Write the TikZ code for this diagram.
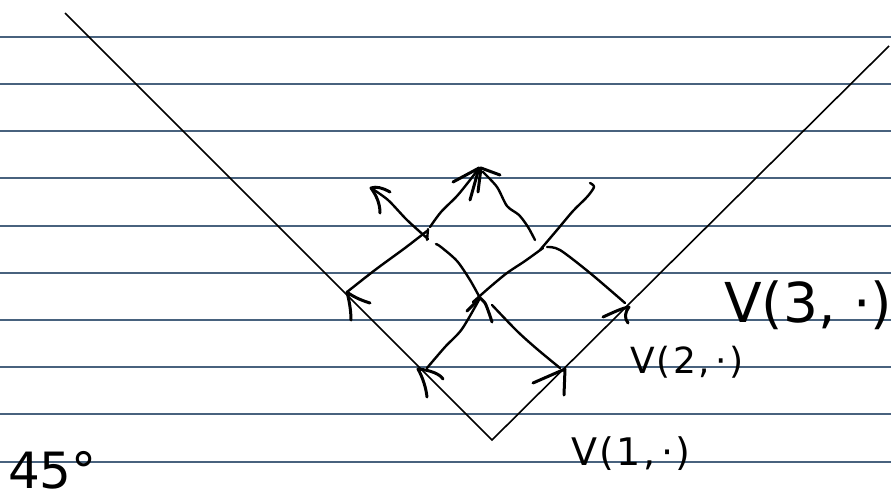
\documentclass[tikz,border=0pt]{standalone}
\usepackage{fontspec}
\newfontfamily\hand{DejaVu Sans}
\newfontfamily\handsp[LetterSpace=6]{DejaVu Sans}
\definecolor{rule}{RGB}{72,98,126}
\begin{document}
\begin{tikzpicture}[x=1pt,y=-1pt,
  ruleline/.style={draw=rule,line width=1.3pt},
  vline/.style={draw=black,line width=1.6pt},
  pen/.style={draw=black,line width=2.4pt,line cap=round,line join=round},
  barb/.style={draw=black,line width=3pt,line cap=round,line join=round},
  lbl/.style={inner sep=0pt,anchor=base west,font=\hand}]
\fill[white] (0,0) rectangle (891,499);
\useasboundingbox (0,0) rectangle (891,499);
% ruled paper
\foreach \yy in {37,84,131,178,226,273,320,367,414,462}
  \draw[ruleline] (0,\yy) -- (891,\yy);
% big V
\coordinate (vtl) at (65,13);
\coordinate (v0) at (492,440);
\coordinate (vtr) at (889,46);
\draw[vline] (vtl) -- (v0) -- (vtr);
% lattice points
\coordinate (a1) at (418,369);
\coordinate (b1) at (565,369);
\coordinate (a2) at (347,292);
\coordinate (b2) at (480,298);
\coordinate (c2) at (629,307);
\coordinate (top) at (479,168);
\coordinate (ul) at (371,188);
% arrowheads on the V (level 2)
\draw[barb] (443,379) .. controls (440,374) and (430,370) .. (a1) .. controls (423,378) and (426,388) .. (427,397);
\draw[barb] (533,383) -- (b1) -- (564,395);
% level 2 -> 3
\draw[pen] plot[smooth] coordinates {(427,368) (445,347) (462,329) (b2)};
\draw[pen] plot[smooth] coordinates {(560,368) (537,349) (517,331) (492,305)};
\draw[barb] (467,311) -- (b2);
\draw[barb] plot[smooth] coordinates {(b2) (485,303) (489,313) (492,322)};
% arrowheads at level 3 on the V
\draw[barb] (370,303) .. controls (360,300) and (352,296) .. (a2) .. controls (349,300) and (351,310) .. (351,320);
\draw[barb] (603,317) .. controls (612,313) and (622,308) .. (c2) .. controls (625,312) and (624,318) .. (628,323);
% level 3 -> 4
\draw[pen] plot[smooth] coordinates {(a2) (375,270) (405,248) (427,231)};
\draw[pen] (428,229) -- (427,240);
\draw[pen] plot[smooth] coordinates {(430,227) (441,212) (457,196) (470,180) (top)};
\draw[pen] plot[smooth] coordinates {(473,302) (490,287) (507,273) (525,261) (543,248)};
% level 4 -> 5
\draw[pen] plot[smooth] coordinates {(428,239) (407,220) (388,200) (ul)};
\draw[barb] (390,192) .. controls (383,188) and (376,186) .. (ul) .. controls (376,195) and (380,203) .. (380,213);
\draw[pen] plot[smooth] coordinates {(436,244) (441,247) (457,261) (470,280) (b2)};
\draw[pen] plot[smooth] coordinates {(483,172) (497,187) (507,206) (519,215) (528,227) (535,240)};
\draw[pen] plot[smooth] coordinates {(540,250) (557,230) (573,211) (587,197) (594,187) (590,183)};
\draw[pen] plot[smooth] coordinates {(547,247) (560,250) (590,273) (625,303)};
% top arrowheads
\draw[barb] (453,182) -- (top) -- (470,200);
\draw[barb] (500,175) -- (481,168) -- (478,192);
% labels
\node[lbl,font=\hand\fontsize{55}{60}\selectfont] (l3) at (724,322) {V(3, ·)};
\node[lbl,font=\handsp\fontsize{36}{40}\selectfont] (l2) at (630,373) {V(2,\,·)};
\node[lbl,font=\handsp\fontsize{38}{42}\selectfont] (l1) at (571,465) {V(1,\,·)};
\node[lbl,font=\hand\fontsize{50}{54}\selectfont] (deg) at (8,488) {45°};
\end{tikzpicture}
\end{document}
